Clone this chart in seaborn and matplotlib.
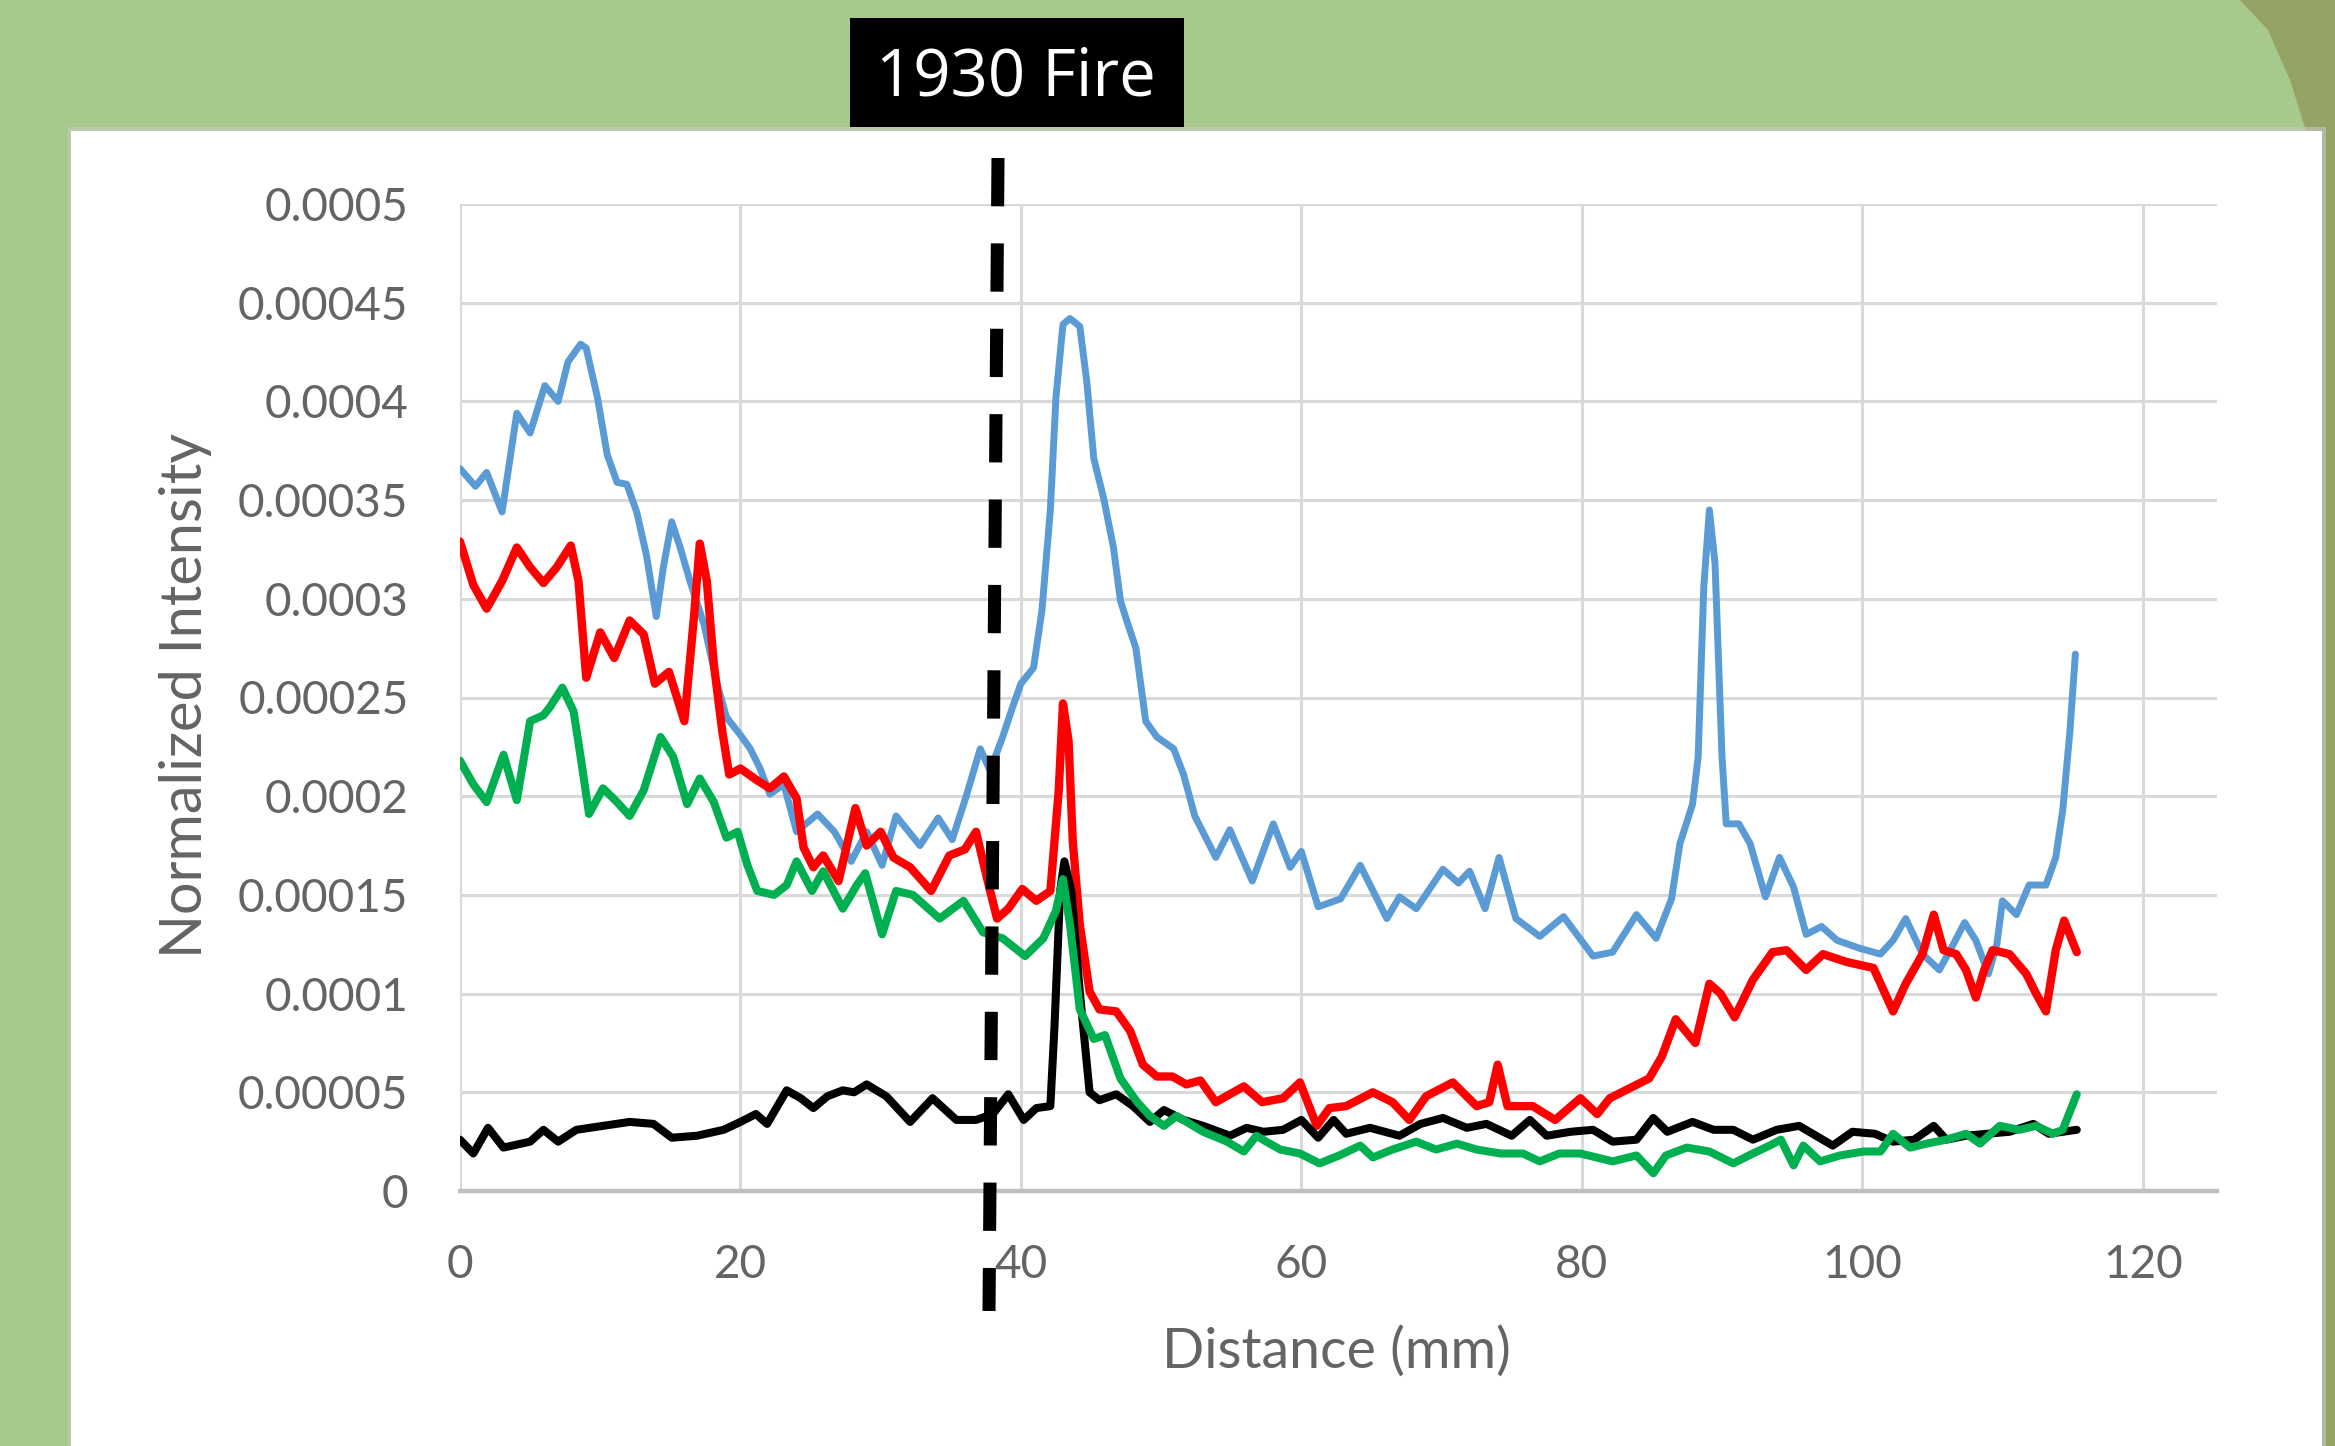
import numpy as np
import pandas as pd
import matplotlib
matplotlib.use("Agg")
import matplotlib.pyplot as plt
import seaborn as sns
from matplotlib.patches import Rectangle, Polygon
from matplotlib.lines import Line2D

# values, intensities in units of 1e-5
blue_x = [0.0, 1.1, 1.9, 3.0, 4.05, 5.0, 6.05, 7.0, 7.7, 8.6, 9.0, 9.8, 10.5, 11.2, 11.9,
          12.6, 13.3, 14.0, 14.5, 15.1, 15.7, 16.4, 17.4, 18.3, 19.0, 20.0, 20.7, 21.4, 22.1,
          23.1, 24.0, 25.5, 26.7, 27.9, 29.0, 30.1, 31.1, 32.8, 34.1, 35.1, 36.1, 37.1, 37.8,
          38.7, 39.4, 40.0, 40.9, 41.5, 42.1, 42.5, 43.0, 43.5, 44.2, 44.7, 45.2, 45.9, 46.6,
          47.1, 47.5, 48.2, 48.9, 49.7, 50.9, 51.6, 52.4, 53.9, 54.9, 56.5, 58.0, 59.2, 60.0,
          61.2, 62.8, 64.2, 66.1, 67.0, 68.2, 70.1, 71.2, 72.0, 73.1, 74.1, 75.3, 77.0, 78.7,
          80.8, 82.2, 83.9, 85.3, 86.4, 87.0, 87.9, 88.3, 88.7, 89.1, 89.5, 90.0, 90.3, 91.2,
          92.0, 93.1, 94.1, 95.1, 96.0, 97.1, 98.2, 99.8, 101.3, 102.2, 103.1, 104.3, 105.5,
          106.5, 107.3, 108.1, 109.0, 109.6, 110.0, 111.0, 111.9, 113.1, 113.8, 114.3, 114.8, 115.2]
blue_val = [36.6, 35.7, 36.4, 34.4, 39.4, 38.4, 40.8, 40.0, 42.0, 42.9, 42.7, 40.2, 37.3, 35.9, 35.8,
            34.4, 32.2, 29.1, 31.6, 33.9, 32.6, 30.9, 28.7, 25.8, 24.0, 23.1, 22.4, 21.4, 20.1,
            20.6, 18.2, 19.1, 18.2, 16.7, 18.2, 16.5, 19.0, 17.5, 18.9, 17.8, 20.0, 22.4, 21.3,
            23.0, 24.5, 25.7, 26.5, 29.4, 34.5, 40.2, 43.9, 44.2, 43.8, 41.0, 37.1, 35.1, 32.6,
            29.9, 29.0, 27.5, 23.8, 23.0, 22.4, 21.1, 19.0, 16.9, 18.3, 15.7, 18.6, 16.4, 17.2,
            14.4, 14.8, 16.5, 13.8, 14.9, 14.3, 16.3, 15.6, 16.2, 14.3, 16.9, 13.8, 12.9, 13.9,
            11.9, 12.1, 14.0, 12.8, 14.8, 17.6, 19.6, 22.0, 30.6, 34.5, 31.8, 22.0, 18.6, 18.6,
            17.6, 14.9, 16.9, 15.4, 13.0, 13.4, 12.7, 12.3, 12.0, 12.7, 13.8, 12.0, 11.2,
            12.5, 13.6, 12.7, 11.0, 12.5, 14.7, 14.0, 15.5, 15.5, 16.9, 19.3, 23.2, 27.2]

red_x = [0.0, 0.95, 1.9, 3.0, 4.05, 5.0, 5.95, 6.9, 7.9, 8.45, 9.0, 10.0, 11.0, 12.1, 13.1,
         13.9, 14.9, 16.0, 16.7, 17.1, 17.6, 18.1, 18.7, 19.2, 20.0, 21.2, 22.1, 23.1, 24.0,
         24.5, 25.2, 25.9, 27.0, 28.2, 29.0, 30.0, 30.9, 32.1, 33.6, 34.9, 36.0, 36.8, 37.6,
         38.3, 39.1, 40.1, 41.1, 42.1, 42.7, 43.0, 43.4, 43.7, 44.2, 44.9, 45.6, 46.8, 47.8,
         48.7, 49.7, 50.8, 51.8, 52.8, 53.9, 55.9, 57.2, 58.7, 59.9, 61.1, 62.0, 63.2, 65.1,
         66.5, 67.7, 68.9, 70.8, 72.5, 73.4, 74.0, 74.7, 76.5, 78.1, 79.9, 81.1, 82.0, 83.4,
         84.8, 85.7, 86.7, 88.1, 89.1, 89.9, 90.9, 92.2, 93.6, 94.6, 96.0, 97.2, 98.9, 100.8,
         101.5, 102.2, 103.1, 104.3, 105.1, 105.8, 106.7, 107.4, 108.1, 108.7, 109.3, 110.5,
         111.7, 112.4, 113.1, 113.8, 114.4, 115.3]
red_val = [32.9, 30.7, 29.5, 30.9, 32.6, 31.6, 30.8, 31.6, 32.7, 30.9, 26.0, 28.3, 27.0, 28.9, 28.2,
           25.7, 26.3, 23.8, 29.2, 32.8, 30.9, 26.7, 23.3, 21.1, 21.4, 20.8, 20.4, 21.0, 19.9,
           17.4, 16.4, 17.0, 15.7, 19.4, 17.5, 18.2, 16.9, 16.4, 15.2, 17.0, 17.3, 18.2, 15.8,
           13.8, 14.3, 15.3, 14.7, 15.2, 20.3, 24.7, 22.8, 17.7, 13.5, 10.1, 9.2, 9.1, 8.1,
           6.4, 5.8, 5.8, 5.4, 5.6, 4.5, 5.3, 4.5, 4.7, 5.5, 3.3, 4.2, 4.3, 5.0,
           4.5, 3.6, 4.8, 5.5, 4.3, 4.5, 6.4, 4.3, 4.3, 3.6, 4.7, 3.9, 4.7, 5.2,
           5.7, 6.8, 8.7, 7.5, 10.5, 10.0, 8.8, 10.7, 12.1, 12.2, 11.2, 12.0, 11.6, 11.3,
           10.2, 9.1, 10.5, 12.0, 14.0, 12.2, 12.0, 11.2, 9.8, 11.2, 12.2, 12.0,
           11.0, 10.0, 9.1, 12.2, 13.7, 12.1]

green_x = [0.0, 0.95, 1.9, 3.1, 4.05, 5.0, 5.95, 6.4, 7.3, 8.1, 8.6, 9.2, 10.2, 11.2, 12.1,
           13.1, 14.3, 15.2, 16.2, 17.1, 18.1, 19.0, 19.8, 20.5, 21.2, 22.4, 23.3, 24.0, 25.1,
           25.9, 27.3, 28.3, 28.9, 30.1, 31.1, 32.3, 34.2, 35.9, 37.3, 38.7, 40.3, 41.6, 42.5,
           43.0, 43.5, 44.2, 45.2, 46.0, 47.1, 48.3, 49.2, 50.2, 51.1, 53.0, 54.7, 55.9, 56.8,
           57.5, 58.5, 59.9, 61.3, 62.7, 64.2, 65.1, 66.5, 68.2, 69.6, 71.1, 72.5, 74.2, 75.8,
           77.0, 78.4, 79.9, 82.2, 83.9, 85.1, 86.0, 87.5, 89.1, 90.8, 92.2, 93.4, 94.2, 95.1,
           95.8, 97.0, 98.4, 100.1, 101.3, 102.2, 103.4, 104.6, 106.0, 107.4, 108.4, 109.8,
           111.2, 112.4, 113.6, 114.3, 115.3]
green_val = [21.8, 20.6, 19.7, 22.1, 19.8, 23.8, 24.1, 24.5, 25.5, 24.3, 22.0, 19.1, 20.4, 19.7, 19.0,
             20.3, 23.0, 22.0, 19.6, 20.9, 19.7, 17.9, 18.2, 16.5, 15.2, 15.0, 15.5, 16.7, 15.2,
             16.2, 14.3, 15.5, 16.1, 13.0, 15.2, 15.0, 13.8, 14.7, 13.1, 12.8, 11.9, 12.8, 14.2,
             15.8, 13.5, 9.2, 7.7, 7.9, 5.7, 4.5, 3.8, 3.3, 3.8, 3.0, 2.5, 2.0, 2.8,
             2.5, 2.1, 1.9, 1.4, 1.8, 2.3, 1.7, 2.1, 2.5, 2.1, 2.4, 2.1, 1.9, 1.9,
             1.5, 1.9, 1.9, 1.5, 1.8, 0.9, 1.8, 2.2, 2.0, 1.4, 1.9, 2.3, 2.6, 1.3,
             2.3, 1.5, 1.8, 2.0, 2.0, 2.9, 2.2, 2.4, 2.6, 2.9, 2.4, 3.3,
             3.1, 3.3, 2.9, 3.1, 4.9]

black_x = [0.0, 0.95, 2.0, 3.1, 5.0, 5.95, 7.0, 8.3, 10.2, 12.1, 13.8, 15.1, 16.9, 18.8, 20.0,
           21.1, 21.9, 23.3, 24.3, 25.2, 26.2, 27.3, 28.1, 29.0, 30.4, 32.1, 33.7, 35.4, 36.8,
           38.0, 39.1, 40.2, 41.1, 42.1, 42.4, 42.8, 43.1, 43.6, 44.2, 44.9, 45.6, 46.8, 48.0,
           49.2, 50.2, 51.6, 53.0, 54.9, 56.1, 57.3, 58.7, 60.0, 61.2, 62.3, 63.2, 64.9, 67.0,
           68.5, 70.1, 71.8, 73.2, 75.0, 76.3, 77.5, 79.2, 80.8, 82.2, 83.9, 85.1, 86.1, 87.9,
           89.4, 90.8, 92.2, 93.9, 95.5, 96.7, 97.9, 99.3, 100.9, 102.2, 103.7, 105.1, 106.0,
           107.4, 108.9, 110.5, 112.2, 113.3, 114.3, 115.3]
black_val = [2.6, 1.9, 3.2, 2.2, 2.5, 3.1, 2.5, 3.1, 3.3, 3.5, 3.4, 2.7, 2.8, 3.1, 3.5,
             3.9, 3.4, 5.1, 4.7, 4.2, 4.8, 5.1, 5.0, 5.4, 4.8, 3.5, 4.7, 3.6, 3.6,
             3.9, 4.9, 3.6, 4.2, 4.3, 8.4, 15.2, 16.7, 15.2, 10.1, 5.0, 4.6, 4.9, 4.3,
             3.5, 4.1, 3.6, 3.3, 2.8, 3.2, 3.0, 3.1, 3.6, 2.7, 3.6, 2.9, 3.2, 2.8,
             3.4, 3.7, 3.2, 3.4, 2.8, 3.6, 2.8, 3.0, 3.1, 2.5, 2.6, 3.7, 3.0, 3.5,
             3.1, 3.1, 2.6, 3.1, 3.3, 2.8, 2.3, 3.0, 2.9, 2.5, 2.6, 3.3, 2.6,
             2.8, 2.9, 3.0, 3.4, 2.9, 3.0, 3.1]

x_ticks = [0, 20, 40, 60, 80, 100, 120]
y_ticks = [0, 0.00005, 0.0001, 0.00015, 0.0002, 0.00025, 0.0003, 0.00035, 0.0004, 0.00045, 0.0005]
y_tick_labels = ["0", "0.00005", "0.0001", "0.00015", "0.0002", "0.00025",
                 "0.0003", "0.00035", "0.0004", "0.00045", "0.0005"]
fire_label = "1930 Fire"

sns.set_theme(style="white")
plt.rcParams["font.family"] = ["Lato", "DejaVu Sans"]

W, H = 2335, 1446
fig = plt.figure(figsize=(W / 100, H / 100), dpi=100)
fig.patch.set_facecolor("#a7c98b")


def fx(x):
    return x / W


def fy(y):
    return 1 - y / H


# slide background: olive wedge on the right, white chart panel with a soft edge
fig.add_artist(Polygon([(fx(2240), fy(0)), (fx(2335), fy(0)), (fx(2335), fy(1446)),
                        (fx(2322), fy(1446)), (fx(2322), fy(131)), (fx(2306), fy(131)),
                        (fx(2290), fy(80)), (fx(2268), fy(30))],
                       closed=True, transform=fig.transFigure, facecolor="#95a466",
                       edgecolor="none", zorder=0))
fig.add_artist(Rectangle((fx(68), fy(1446)), fx(2258), (1446 - 127) / H,
                         transform=fig.transFigure, facecolor="#c8c8c8", edgecolor="none",
                         alpha=0.6, zorder=0.5))
fig.add_artist(Rectangle((fx(71), fy(1446)), fx(2251), (1446 - 131) / H,
                         transform=fig.transFigure, facecolor="white", edgecolor="none",
                         zorder=1))

ax = fig.add_axes([fx(460), fy(1191), fx(2217 - 460), (1191 - 204) / H])
ax.set_facecolor("white")
ax.set_zorder(2)

series = [(blue_x, blue_val, "#5B9BD5", 5.0),
          (red_x, red_val, "#FF0000", 6.0),
          (black_x, black_val, "#000000", 5.8),
          (green_x, green_val, "#00B050", 5.8)]
for xs, vals, col, lw in series:
    df = pd.DataFrame({"Distance": xs, "Intensity": np.array(vals) * 1e-5})
    sns.lineplot(data=df, x="Distance", y="Intensity", color=col,
                 estimator=None, sort=False, ax=ax, zorder=3)
    line = ax.get_lines()[-1]
    line.set_linewidth(lw)
    line.set_solid_joinstyle("round")
    line.set_solid_capstyle("round")

ax.set_xlim(0, 125.3)
ax.set_ylim(0, 0.0005)
ax.set_xticks(x_ticks)
ax.set_yticks(y_ticks)
ax.set_yticklabels(y_tick_labels)
ax.grid(True, color="#d9d9d9", linewidth=2.2, zorder=1)
ax.set_axisbelow(True)
for s in ["top", "right", "left"]:
    ax.spines[s].set_visible(False)
ax.spines["bottom"].set_color("#bfbfbf")
ax.spines["bottom"].set_linewidth(3.2)
ax.tick_params(length=0, labelsize=33, labelcolor="#646464")
ax.tick_params(axis="y", pad=37)
ax.tick_params(axis="x", pad=38)

ax.set_xlabel("Distance (mm)", fontsize=40, color="#646464")
ax.set_ylabel("Normalized Intensity", fontsize=41.5, color="#646464")
ax.xaxis.label.set_va("center")
ax.yaxis.label.set_va("center")
ax.xaxis.set_label_coords((1336 - 460) / 1757, (1191 - 1352) / 987)
ax.yaxis.set_label_coords((186 - 460) / 1757, (1191 - 695) / 987)

# fire marker: label box and dashed line
fig.add_artist(Rectangle((fx(850), fy(127)), fx(334), 109 / H, transform=fig.transFigure,
                         facecolor="black", edgecolor="none", zorder=5))
fig.text(fx(1016), fy(79), fire_label, color="white", fontsize=47, ha="center", va="center",
         family=["Open Sans", "DejaVu Sans"], zorder=6)
fig.add_artist(Line2D([fx(998), fx(989)], [fy(158), fy(1311)], transform=fig.transFigure,
                      color="black", linewidth=9.4, linestyle=(0, (3.7, 2.84)),
                      dash_capstyle="butt", zorder=7))

fig.savefig("out.png", dpi=100, facecolor=fig.get_facecolor())
